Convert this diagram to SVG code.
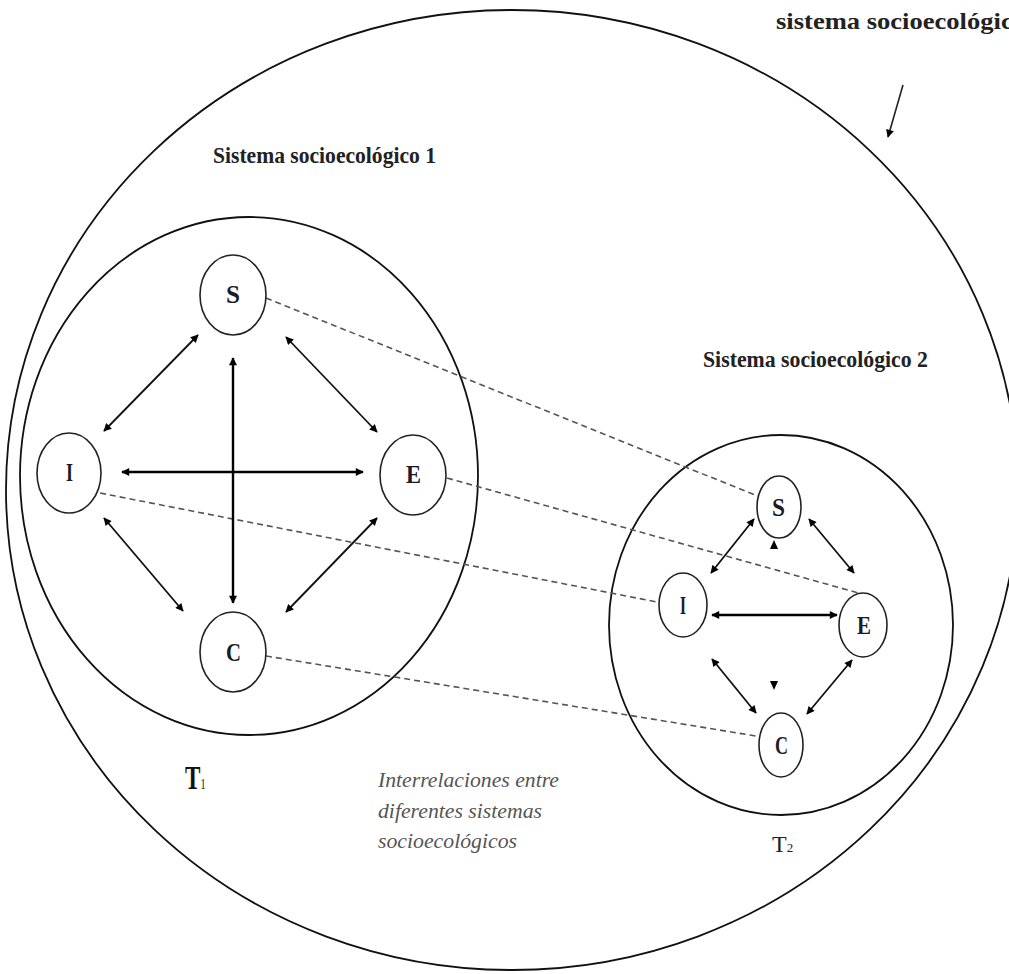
<svg xmlns="http://www.w3.org/2000/svg" width="1009" height="974" viewBox="0 0 1009 974">
<style>
.ring{fill:none;stroke:#111;stroke-width:1.8}
.node{fill:#fff;stroke:#222;stroke-width:1.6}
.lbl{font-family:"Liberation Serif",serif;font-weight:bold;fill:#1a1a2a;font-size:25px}
.title{font-family:"Liberation Serif",serif;font-weight:bold;fill:#222;font-size:24px}
.arr{stroke:#111;stroke-width:1.8;fill:none;marker-start:url(#ah);marker-end:url(#ah)}
.arrb{stroke:#000;stroke-width:2.4;fill:none;marker-start:url(#ah);marker-end:url(#ah)}
.dash{stroke:#555;stroke-width:1.6;stroke-dasharray:6,4;fill:none}
.ital{font-family:"Liberation Serif",serif;font-style:italic;fill:#555;font-size:22px}
</style>
<defs>
<marker id="ah" viewBox="0 0 10 10" refX="9" refY="5" markerWidth="10" markerHeight="8" markerUnits="userSpaceOnUse" orient="auto-start-reverse"><path d="M0,0 L10,5 L0,10 z" fill="#000"/></marker>
</defs>
<rect width="1009" height="974" fill="#fff"/>
<g id="outer-system">
<ellipse class="ring" cx="512" cy="490" rx="506" ry="480"/>
<text class="title" x="776" y="29" font-size="28" textLength="250" lengthAdjust="spacingAndGlyphs">sistema socioecológico</text>
</g>
<g id="system1">
<ellipse class="ring" cx="249" cy="476" rx="229" ry="259"/>
<text class="title" x="213" y="163" textLength="223" lengthAdjust="spacingAndGlyphs">Sistema socioecológico 1</text>
<text transform="translate(185,789) scale(0.68,1)" font-family="Liberation Serif,serif" fill="#111"><tspan font-weight="bold" font-size="34">T</tspan><tspan font-size="15">1</tspan></text>
</g>
<g id="system2">
<ellipse class="ring" cx="781" cy="625" rx="172" ry="190"/>
<text class="title" x="703" y="367" textLength="225" lengthAdjust="spacingAndGlyphs">Sistema socioecológico 2</text>
<text x="772" y="852" font-family="Liberation Serif,serif" fill="#222"><tspan font-size="24">T</tspan><tspan font-size="13">2</tspan></text>
</g>
<g id="connectors">
<line class="dash" x1="266" y1="298" x2="755" y2="495"/>
<line class="dash" x1="447" y1="478" x2="862" y2="594"/>
<line class="dash" x1="100" y1="493" x2="657" y2="602"/>
<line class="dash" x1="266" y1="656" x2="756" y2="736"/>
<line class="arrb" x1="122" y1="472" x2="363" y2="472"/>
<line class="arrb" x1="233" y1="358" x2="233" y2="603"/>
<line class="arr" x1="198" y1="335" x2="104" y2="431"/>
<line class="arr" x1="286" y1="337" x2="377" y2="432"/>
<line class="arr" x1="104" y1="518" x2="183" y2="611"/>
<line class="arr" x1="377" y1="518" x2="286" y2="612"/>
<line class="arrb" x1="712" y1="615" x2="837" y2="615"/>
<line class="arr" x1="754" y1="519" x2="711" y2="573"/>
<line class="arr" x1="809" y1="519" x2="854" y2="573"/>
<line class="arr" x1="712" y1="659" x2="756" y2="713"/>
<line class="arr" x1="852" y1="660" x2="807" y2="714"/>
<path d="M774,540 L778,549 L770,549 z" fill="#000"/>
<path d="M774,690 L778,681 L770,681 z" fill="#000"/>
<line x1="903" y1="85" x2="888" y2="137" stroke="#222" stroke-width="1.6" marker-end="url(#ah)"/>
</g>
<g id="node-S1"><ellipse class="node" cx="233" cy="295" rx="33" ry="40"/><text class="lbl" x="226" y="303" textLength="14" lengthAdjust="spacingAndGlyphs">S</text></g>
<g id="node-I1"><ellipse class="node" cx="69" cy="473" rx="32" ry="40"/><text class="lbl" x="66" y="481" textLength="7" lengthAdjust="spacingAndGlyphs">I</text></g>
<g id="node-E1"><ellipse class="node" cx="413" cy="475" rx="33" ry="40"/><text class="lbl" x="406" y="483" textLength="15" lengthAdjust="spacingAndGlyphs">E</text></g>
<g id="node-C1"><ellipse class="node" cx="233" cy="652" rx="33" ry="40"/><text class="lbl" x="226" y="661" textLength="15" lengthAdjust="spacingAndGlyphs">C</text></g>
<g id="node-S2"><ellipse class="node" cx="779" cy="507" rx="22" ry="31"/><text class="lbl" x="772" y="516" font-size="24" textLength="13" lengthAdjust="spacingAndGlyphs">S</text></g>
<g id="node-I2"><ellipse class="node" cx="683" cy="605" rx="24" ry="32"/><text class="lbl" x="680" y="614" font-size="24" textLength="6" lengthAdjust="spacingAndGlyphs">I</text></g>
<g id="node-E2"><ellipse class="node" cx="863" cy="625" rx="24" ry="32"/><text class="lbl" x="857" y="634" font-size="24" textLength="14" lengthAdjust="spacingAndGlyphs">E</text></g>
<g id="node-C2"><ellipse class="node" cx="781" cy="745" rx="22" ry="32"/><text class="lbl" x="775" y="754" font-size="24" font-weight="normal" textLength="13" lengthAdjust="spacingAndGlyphs">C</text></g>
<g id="note">
<text class="ital" x="378" y="787" textLength="181" lengthAdjust="spacingAndGlyphs">Interrelaciones entre</text>
<text class="ital" x="378" y="818" textLength="164" lengthAdjust="spacingAndGlyphs">diferentes sistemas</text>
<text class="ital" x="378" y="848" textLength="139" lengthAdjust="spacingAndGlyphs">socioecológicos</text>
</g>
</svg>
